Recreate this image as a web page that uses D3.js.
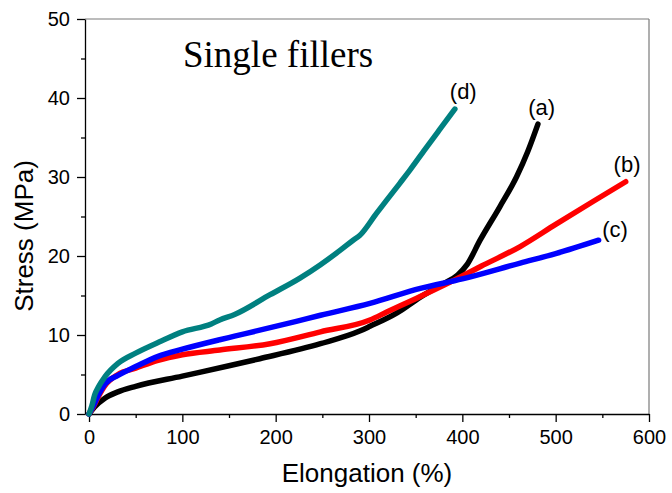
<!DOCTYPE html>
<html lang="en">
<head>
    <meta charset="UTF-8">
    <title>Single fillers</title>
    <style>
        body { margin: 0; background: #fff; }
        .axis text { font-family: "Liberation Sans", Arial, sans-serif; font-size: 20px; fill: #000; }
        .axis line, .axis path { stroke: #000; stroke-width: 1.3px; }
        .curve { fill: none; stroke-width: 5.5px; stroke-linejoin: round; stroke-linecap: round; }
        .lbl { font-family: "Liberation Sans", Arial, sans-serif; font-size: 22px; }
    </style>
    <script src="https://d3js.org/d3.v7.min.js"></script>
</head>
<body>
    <svg width="672" height="493"></svg>
    <script>
        // Tick values
        const xMajor = [0, 100, 200, 300, 400, 500, 600];
        const xMinor = [50, 150, 250, 350, 450, 550];
        const yMajor = [0, 10, 20, 30, 40, 50];
        const yMinor = [5, 15, 25, 35, 45];

        // Curves: [elongation %, stress MPa]
        const curveA = [[0,0],[6,0.9],[17,2.0],[31,2.8],[50,3.5],[100,4.8],[150,6.1],[183,7.0],[248,8.9],
            [290,10.5],[301,11.1],[330,12.8],[355,14.8],[380,16.5],[395,17.6],[405,18.9],[419,22],
            [440,26.2],[458,30],[470,33.2],[481,36.7]];
        const curveB = [[0,0],[5,1.0],[10,2.2],[17,3.6],[31,5.0],[50,5.8],[74,6.8],[100,7.5],[140,8.1],
            [194,8.9],[248,10.4],[301,11.9],[319,12.9],[350,14.6],[387,16.7],[420,18.7],[462,21.2],
            [500,24.0],[540,26.9],[575,29.4]];
        const curveC = [[0,0],[5,1.1],[10,2.4],[17,3.8],[31,4.9],[50,6.0],[74,7.3],[100,8.2],[140,9.4],
            [156,9.85],[221,11.7],[248,12.5],[301,14.0],[355,15.9],[400,17.1],[462,19.1],[500,20.3],[546,22]];
        const curveD = [[0,0],[3,1.0],[6,2.4],[10,3.4],[17,4.7],[31,6.4],[50,7.7],[75,9.1],[100,10.4],
            [131,11.4],[140,11.9],[156,12.6],[194,15.1],[226,17.2],[248,18.9],[270,20.8],[283,22],
            [290,22.6],[308,25.4],[333,29.2],[344,30.9],[360,33.5],[375,35.9],[392,38.6]];

        const seriesNames = ["(a)", "(b)", "(c)", "(d)"];
        const seriesColors = ["#000000", "#ff0000", "#0000ff", "#008080"];
        const seriesData = [curveA, curveB, curveC, curveD];
        const labelPos = [[485, 37.8], [576.5, 30.6], [563.6, 22.4], [401, 39.9]];

        const svg = d3.select("svg");
        const mLeft = 85, mRight = 649, mTop = 19, mBottom = 414;

        const x = d3.scaleLinear().domain([-4.3, 600]).range([mLeft, mRight]);
        const y = d3.scaleLinear().domain([0, 50]).range([mBottom, mTop]);

        // frame top/right
        svg.append("line").attr("x1", mLeft).attr("x2", mRight).attr("y1", mTop).attr("y2", mTop)
            .attr("stroke", "#7a7a7a").attr("stroke-width", 1.2);
        svg.append("line").attr("x1", mRight).attr("x2", mRight).attr("y1", mTop).attr("y2", mBottom)
            .attr("stroke", "#7a7a7a").attr("stroke-width", 1.2);

        // minor ticks
        svg.append("g").attr("class", "axis").attr("transform", `translate(0,${mBottom})`)
            .call(d3.axisBottom(x).tickValues(xMinor).tickSize(4).tickFormat(""))
            .call(g => g.select(".domain").remove());
        svg.append("g").attr("class", "axis").attr("transform", `translate(${mLeft},0)`)
            .call(d3.axisLeft(y).tickValues(yMinor).tickSize(4).tickFormat(""))
            .call(g => g.select(".domain").remove());

        // major axes
        svg.append("g").attr("class", "axis").attr("transform", `translate(0,${mBottom})`)
            .call(d3.axisBottom(x).tickValues(xMajor).tickSize(8).tickSizeOuter(0).tickPadding(7.5));
        svg.append("g").attr("class", "axis").attr("transform", `translate(${mLeft},0)`)
            .call(d3.axisLeft(y).tickValues(yMajor).tickSize(8).tickSizeOuter(0).tickPadding(7));

        // curves
        const line = d3.line().x(d => x(d[0])).y(d => y(d[1])).curve(d3.curveMonotoneX);
        svg.append("g").selectAll("path")
            .data(seriesData)
            .join("path")
            .attr("class", "curve")
            .attr("stroke", (d, i) => seriesColors[i])
            .attr("d", line);

        // curve labels
        svg.append("g").selectAll("text")
            .data(seriesNames)
            .join("text")
            .attr("class", "lbl")
            .attr("text-anchor", "middle")
            .attr("x", (d, i) => x(labelPos[i][0]))
            .attr("y", (d, i) => y(labelPos[i][1]))
            .text(d => d);

        // title
        svg.append("text")
            .attr("x", 183).attr("y", 67)
            .attr("font-family", "'Liberation Serif', 'Times New Roman', serif")
            .attr("font-size", 37)
            .text("Single fillers");

        // axis titles
        svg.append("text")
            .attr("x", 367).attr("y", 482)
            .attr("text-anchor", "middle")
            .attr("font-family", "'Liberation Sans', Arial, sans-serif")
            .attr("font-size", 26)
            .text("Elongation (%)");
        svg.append("text")
            .attr("transform", "translate(33,236) rotate(-90)")
            .attr("text-anchor", "middle")
            .attr("font-family", "'Liberation Sans', Arial, sans-serif")
            .attr("font-size", 26)
            .text("Stress (MPa)");
    </script>
</body>
</html>
